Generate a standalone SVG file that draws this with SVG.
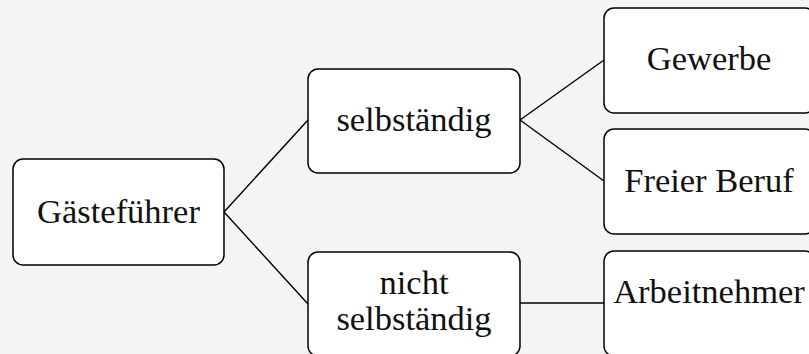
<svg xmlns="http://www.w3.org/2000/svg" width="809" height="354" viewBox="0 0 809 354">
<style>
.box{fill:#ffffff;stroke:#000000;stroke-width:1.5}
.lbl{font-family:"Liberation Serif","Times New Roman",serif;font-size:34.5px;fill:#111111;text-anchor:middle}
.edge{stroke:#000000;stroke-width:1.4;fill:none}
</style>
<rect x="0" y="0" width="809" height="354" fill="#f4f4f4"/>
<g id="connectors">
<line class="edge" x1="224" y1="212" x2="308" y2="120"/>
<line class="edge" x1="224" y1="212" x2="308" y2="304"/>
<line class="edge" x1="520" y1="120" x2="604" y2="60"/>
<line class="edge" x1="520" y1="120" x2="604" y2="181"/>
<line class="edge" x1="520" y1="303" x2="604" y2="303"/>
</g>
<g id="node-gaestefuehrer">
<rect class="box" x="13" y="159" width="211" height="106" rx="10"/>
<text class="lbl" x="118.5" y="223">Gästeführer</text>
</g>
<g id="node-selbstaendig">
<rect class="box" x="308" y="69" width="212" height="104" rx="10"/>
<text class="lbl" x="414" y="131">selbständig</text>
</g>
<g id="node-nicht-selbstaendig">
<rect class="box" x="308" y="252" width="212" height="104" rx="10"/>
<text class="lbl" x="414" y="294">nicht</text>
<text class="lbl" x="414" y="330">selbständig</text>
</g>
<g id="node-gewerbe">
<rect class="box" x="604" y="8" width="211" height="105" rx="10"/>
<text class="lbl" x="709" y="70">Gewerbe</text>
</g>
<g id="node-freier-beruf">
<rect class="box" x="604" y="129" width="211" height="105" rx="10"/>
<text class="lbl" x="709" y="192">Freier Beruf</text>
</g>
<g id="node-arbeitnehmer">
<rect class="box" x="604" y="251" width="211" height="105" rx="10"/>
<text class="lbl" x="709" y="303">Arbeitnehmer</text>
</g>
</svg>
